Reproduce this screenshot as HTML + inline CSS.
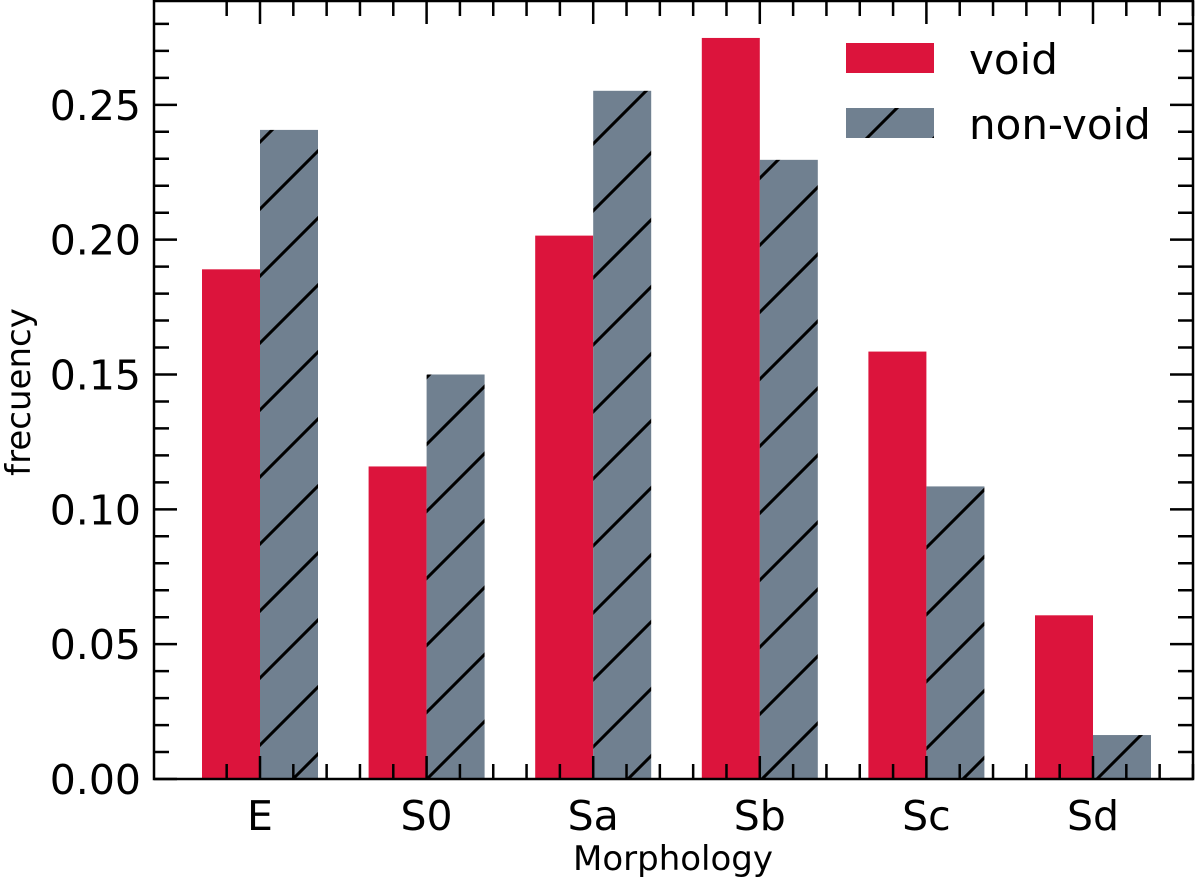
<!DOCTYPE html>
<html><head><meta charset="utf-8"><style>
html,body{margin:0;padding:0;background:#fff;}
svg{display:block;font-family:"DejaVu Sans","Liberation Sans",sans-serif;}
</style></head><body>
<svg id="chart" width="1200" height="878" viewBox="0 0 1200 878" xmlns="http://www.w3.org/2000/svg">
<defs>
<pattern id="hatch" patternUnits="userSpaceOnUse" width="67" height="67">
<rect width="67" height="67" fill="#708090"/>
<path d="M-10,77 L77,-10 M-10,10 L10,-10 M57,77 L77,57" stroke="#000" stroke-width="3"/>
</pattern>
</defs>
<g id="plot"></g>
</svg>
<script>
const categories = ["E","S0","Sa","Sb","Sc","Sd"];
const voidValues = [0.189, 0.1159, 0.2015, 0.2748, 0.1585, 0.0607];
const nonVoidValues = [0.2407, 0.150, 0.2552, 0.2296, 0.1085, 0.0163];
const yTicks = [0, 0.05, 0.10, 0.15, 0.20, 0.25];
const yTickLabels = ["0.00","0.05","0.10","0.15","0.20","0.25"];

const L=154, R=1193, T=1, B=779;
const yMax = 0.2885;
const y = v => B - v/yMax*(B-T);
const step = 166.6, x0 = 260;
const x = i => x0 + i*step;
const bw = 58;
const NS="http://www.w3.org/2000/svg";
const g=document.getElementById('plot');
function mk(tag, attrs){const e=document.createElementNS(NS,tag);for(const k in attrs)e.setAttribute(k,attrs[k]);g.appendChild(e);return e;}

categories.forEach((c,i)=>{
  const r1=mk('rect',{x:x(i)-bw,y:y(voidValues[i]),width:bw,height:B-y(voidValues[i]),fill:'#dc143c'});
  
  
  const r2=mk('rect',{x:x(i),y:y(nonVoidValues[i]),width:bw,height:B-y(nonVoidValues[i]),fill:'url(#hatch)'});
  
  
  const t=mk('text',{x:x(i),y:830,'font-size':41,'text-anchor':'middle'});
  t.textContent=c;
  
  
});

let d='';
for(let k=-1;k<=7*5;k++){const xx=x0+k*step/5; if(xx<L||xx>R)continue; const len=(k%5===0)?23:15;
  d+=`M${xx},${B}V${B-len}M${xx},${T}V${T+len}`;}
for(let k=0;k<=28;k++){const yy=y(k*0.01); const len=(k%5===0)?23:15;
  d+=`M${L},${yy}H${L+len}M${R},${yy}H${R-len}`;}
const tk=mk('path',{d:d,stroke:'#000','stroke-width':2.5,fill:'none'});



yTicks.forEach((v,i)=>{
  const t=mk('text',{x:141,y:y(v)+15,'font-size':41,'text-anchor':'end'});
  t.textContent=yTickLabels[i];
  
  
});

const fr=mk('rect',{x:L,y:T,width:R-L,height:B-T,fill:'none',stroke:'#000','stroke-width':2.5});



const xt=mk('text',{x:673,y:870,'font-size':34,'text-anchor':'middle'});
xt.textContent='Morphology';


const yt=mk('text',{x:0,y:0,'font-size':34,'text-anchor':'middle',transform:'translate(30,392) rotate(-90)'});
yt.textContent='frecuency';



const l1=mk('rect',{x:846,y:43,width:88,height:30,fill:'#dc143c'});


const l2=mk('rect',{x:846,y:108,width:88,height:30,fill:'url(#hatch)'});


const lt1=mk('text',{x:969,y:74,'font-size':42});
lt1.textContent='void';


const lt2=mk('text',{x:969,y:139,'font-size':42});
lt2.textContent='non-void';


</script>
</body></html>
